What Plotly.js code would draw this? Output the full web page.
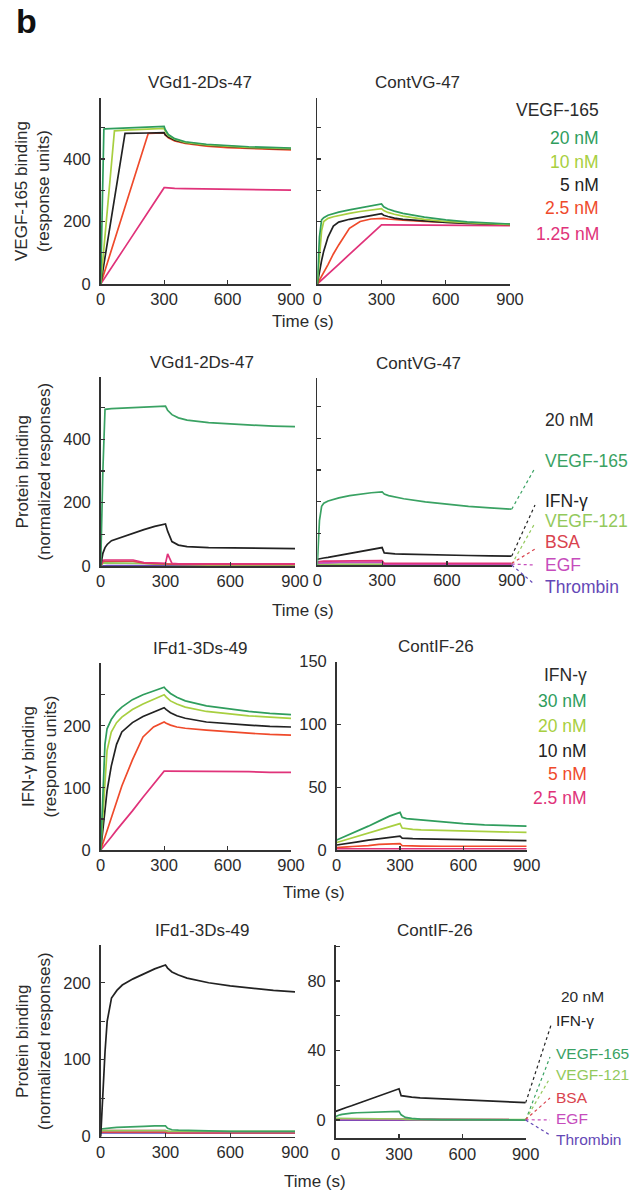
<!DOCTYPE html>
<html><head><meta charset="utf-8">
<script src="https://cdn.plot.ly/plotly-3.0.1.min.js"></script>
<style>html,body{margin:0;padding:0;background:#fff}#chart{width:632px;height:1193px}</style>
</head><body><div id="chart"></div>
<script>
// ---------- DATA ----------
const timeA = [0, 15, 20, 65, 115, 225, 300, 305, 320, 350, 400, 500, 600, 700, 800, 900];
const timeB = [0, 10, 20, 30, 50, 75, 100, 150, 200, 250, 300, 310, 330, 360, 400, 500, 600, 700, 800, 900];
const xTicks = [0, 300, 600, 900];

// Row 1 left: VGd1-2Ds-47, VEGF-165 binding (RU)
const vgd_20nM  = [0, 495, 496, 497, 498, 500, 504, 494, 478, 465, 455, 447, 442, 439, 437, 435];
const vgd_10nM  = [0, 113, 151, 490, 492, 495, 498, 490, 475, 463, 453, 445, 440, 437, 435, 433];
const vgd_5nM   = [0, 63, 84, 272, 482, 483, 484, 478, 470, 460, 452, 444, 439, 436, 434, 432];
const vgd_2p5nM = [0, 32, 43, 139, 246, 482, 483, 477, 468, 458, 450, 441, 436, 433, 431, 429];
const vgd_1p25nM= [0, 15, 21, 67, 118, 231, 308, 308, 307, 306, 305, 304, 303, 302, 301, 300];

// Row 1 right: ContVG-47, VEGF-165 binding (RU)
const cvg_20nM  = [0, 150, 205, 212, 220, 226, 230, 237, 243, 249, 256, 247, 240, 233, 226, 214, 205, 199, 195, 192];
const cvg_10nM  = [0, 100, 170, 200, 210, 215, 219, 226, 232, 237, 241, 235, 229, 223, 217, 207, 200, 196, 193, 191];
const cvg_5nM   = [0, 40, 75, 105, 150, 185, 198, 207, 214, 219, 225, 220, 216, 211, 207, 201, 197, 194, 192, 191];
const cvg_2p5nM = [0, 12, 25, 37, 62, 96, 125, 178, 200, 208, 211, 210, 208, 206, 204, 200, 197, 194, 192, 190];
const cvg_1p25nM= [0, 6, 13, 19, 32, 47, 63, 95, 126, 158, 189, 189, 189, 189, 189, 188, 188, 187, 187, 187];

// Row 2 left: VGd1-2Ds-47, protein binding (normalized)
const vgdS_VEGF165 = [0, 300, 495, 496, 497, 498, 499, 500, 501, 503, 505, 492, 478, 468, 461, 453, 448, 445, 442, 440];
const vgdS_IFN     = [0, 40, 58, 68, 80, 86, 92, 103, 115, 125, 133, 110, 77, 66, 61, 58, 57, 56, 56, 55];
const vgdS_VEGF121 = [0, 9, 10, 10, 10, 10, 10, 10, 8, 6, 5, 5, 4, 4, 4, 3, 3, 3, 3, 3];
const vgdS_BSA     = [0, 14, 15, 15, 15, 15, 15, 15, 9, 7, 6, 6, 6, 5, 5, 5, 5, 5, 5, 5];
const vgdS_EGF     = [0, 18, 19, 19, 19, 19, 19, 19, 11, 9, 8, 38, 8, 7, 7, 7, 7, 7, 7, 7];
const vgdS_Thrombin= [0, 1, 1, 1, 1, 1, 1, 1, 1, 1, 1, 1, 1, 1, 1, 1, 1, 1, 1, 1];

// Row 2 right: ContVG-47, protein binding (normalized)
const cvgS_VEGF165 = [0, 140, 185, 195, 202, 208, 212, 219, 224, 228, 231, 224, 219, 214, 209, 199, 191, 185, 180, 176];
const cvgS_IFN     = [18, 20, 21, 22, 24, 27, 30, 36, 42, 49, 55, 38, 36, 35, 34, 32, 31, 30, 29, 28];
const cvgS_VEGF121 = [3, 3, 3, 3, 3, 3, 3, 3, 3, 3, 3, 2, 2, 2, 2, 2, 2, 2, 2, 2];
const cvgS_BSA     = [10, 11, 11, 12, 12, 12, 13, 13, 13, 14, 14, 5, 5, 5, 5, 5, 5, 5, 5, 5];
const cvgS_EGF     = [6, 7, 7, 7, 7, 8, 8, 8, 8, 8, 8, 3, 3, 3, 3, 3, 3, 3, 3, 3];
const cvgS_Thrombin= [0, 0, 0, 0, 0, 0, 0, 0, 0, 0, 0, 0, 0, 0, 0, 0, 0, 0, 0, 0];

// Row 3 left: IFd1-3Ds-49, IFN-γ binding (RU)
const ifd_30nM  = [0, 100, 170, 195, 210, 222, 230, 242, 250, 256, 262, 258, 252, 246, 240, 232, 227, 223, 220, 218];
const ifd_20nM  = [0, 60, 120, 160, 190, 205, 214, 226, 235, 243, 250, 246, 240, 235, 230, 223, 219, 216, 214, 212];
const ifd_10nM  = [0, 30, 62, 95, 135, 170, 190, 205, 215, 222, 229, 226, 221, 216, 212, 206, 203, 201, 199, 198];
const ifd_5nM   = [0, 10, 21, 31, 52, 78, 103, 145, 182, 198, 206, 204, 201, 198, 196, 193, 190, 188, 186, 185];
const ifd_2p5nM = [0, 4, 8, 13, 21, 32, 42, 63, 85, 106, 127, 127, 127, 127, 127, 126, 126, 126, 125, 125];

// Row 3 right: ContIF-26, IFN-γ binding (RU)
const cif_30nM  = [8, 8.7, 9.4, 10, 11.5, 13.3, 15, 19, 23, 27, 30, 26, 25, 24.5, 24, 22.5, 21, 20, 19.5, 19];
const cif_20nM  = [6, 6.5, 7, 7.5, 8.5, 10, 11, 14, 16.5, 19, 21, 17.5, 17, 16.5, 16, 15.5, 15, 14.5, 14, 14];
const cif_10nM  = [4, 4.2, 4.5, 4.8, 5.3, 6, 6.5, 7.8, 9, 10, 11, 9.5, 9.2, 9, 8.8, 8.5, 8.2, 8, 7.8, 7.5];
const cif_5nM   = [2, 2, 2.2, 2.3, 2.5, 2.8, 3, 3.5, 4.5, 5, 5, 3.5, 3.3, 3.2, 3.1, 3, 3, 3, 3, 3];
const cif_2p5nM = [1, 1, 1, 1, 1.1, 1.2, 1.3, 1.4, 1.5, 1.5, 1.6, 1, 1, 1, 1, 1, 1, 1, 1, 1];

// Row 4 left: IFd1-3Ds-49, protein binding (normalized)
const ifdS_IFN     = [0, 60, 110, 150, 180, 190, 197, 205, 212, 218, 223, 219, 214, 210, 206, 200, 196, 193, 190, 188];
const ifdS_VEGF165 = [10, 10.5, 11, 11, 11.5, 12, 12.5, 13, 13.5, 14, 14, 11, 9, 8.5, 8, 7.5, 7, 7, 7, 7];
const ifdS_VEGF121 = [8, 8, 8, 8, 8, 8, 8, 8, 8, 8, 8, 7, 7, 7, 7, 7, 7, 7, 7, 7];
const ifdS_BSA     = [6, 6, 6, 6, 6, 6, 6, 6, 6, 6, 6, 5, 5, 5, 5, 5, 5, 5, 5, 5];
const ifdS_EGF     = [8, 8, 8, 8, 8, 8, 8, 8, 8, 8, 8, 7, 6, 6, 6, 6, 6, 6, 6, 6];
const ifdS_Thrombin= [5, 5, 5, 5, 5, 5, 5, 5, 5, 5, 5, 5, 5, 5, 5, 5, 5, 5, 5, 5];

// Row 4 right: ContIF-26, protein binding (normalized)
const cifS_IFN     = [5, 5.5, 6, 6.5, 7.2, 8.2, 9.3, 11.5, 13.8, 16, 18, 14, 13.6, 13.2, 12.8, 12.2, 11.7, 11.1, 10.5, 10];
const cifS_VEGF165 = [2, 2.6, 3, 3.3, 3.7, 4, 4.2, 4.5, 4.7, 4.9, 5, 3, 1.5, 1, 0.5, 0.3, 0.2, 0.1, 0.1, 0];
const cifS_VEGF121 = [1, 1, 1, 1, 1, 1, 1, 1, 1, 1, 1, 0.6, 0.4, 0.3, 0.3, 0.3, 0.3, 0.3, 0.3, 0.3];
const cifS_BSA     = [0.5, 0.5, 0.5, 0.5, 0.5, 0.5, 0.5, 0.5, 0.5, 0.5, 0.5, 0.3, 0.3, 0.3, 0.3, 0.3, 0.3, 0.3, 0.3, 0.3];
const cifS_EGF     = [0.4, 0.4, 0.4, 0.4, 0.4, 0.4, 0.4, 0.4, 0.4, 0.4, 0.4, 0.2, 0.2, 0.2, 0.2, 0.2, 0.2, 0.2, 0.2, 0.2];
const cifS_Thrombin= [0, 0, 0, 0, 0, 0, 0, 0, 0, 0, 0, 0, 0, 0, 0, 0, 0, 0, 0, 0];

// Text labels
const panelTitles = ['VGd1-2Ds-47', 'ContVG-47', 'VGd1-2Ds-47', 'ContVG-47', 'IFd1-3Ds-49', 'ContIF-26', 'IFd1-3Ds-49', 'ContIF-26'];
const yTitles = ['VEGF-165 binding<br>(response units)', 'Protein binding<br>(normalized responses)', 'IFN-γ binding<br>(response units)', 'Protein binding<br>(normalized responses)'];
const vegfLegend = ['VEGF-165', '20 nM', '10 nM', '5 nM', '2.5 nM', '1.25 nM'];
const ifnLegend = ['IFN-γ', '30 nM', '20 nM', '10 nM', '5 nM', '2.5 nM'];
const specLegend = ['VEGF-165', 'IFN-γ', 'VEGF-121', 'BSA', 'EGF', 'Thrombin'];
const specConc = '20 nM';

// ---------- STYLE ----------
const W = 632, H = 1193;
const FONT = 'Liberation Sans, Arial, Helvetica, sans-serif';
const TXT = '#2b2b2b';
const cG = '#2f9d5d', cLG = '#a8cf40', cK = '#222222', cR = '#ef4a2b', cP = '#e0337a';
const sV165 = '#3aa263', sIFN = '#222222', sV121 = '#93c95c', sBSA = '#d9434e', sEGF = '#c64cbc', sThr = '#6448b6';
const concColors = [TXT, cG, cLG, cK, cR, cP];

const fx = p => p / W;
const fy = p => 1 - p / H;

const panels = [
  {x:[100.7,291],   y:[98,284],     yr:[0,595],  yt:[0,100,200,300,400,500], ytt:['0','','200','','400',''], lab:true},
  {x:[317.3,510],   y:[98,284],     yr:[0,595],  yt:[0,100,200,300,400,500], ytt:['0','','200','','400',''], lab:false},
  {x:[100.7,295],   y:[377,566],    yr:[0,597],  yt:[0,100,200,300,400,500], ytt:['0','','200','','400',''], lab:true},
  {x:[317.3,511.7], y:[378,565],    yr:[0,590],  yt:[0,100,200,300,400,500], ytt:['0','','200','','400',''], lab:false},
  {x:[100.7,291],   y:[663,850],    yr:[0,301],  yt:[0,50,100,150,200,250], ytt:['0','','100','','200',''], lab:true},
  {x:[336.7,526.7], y:[661.7,850],  yr:[0,150],  yt:[0,50,100,150], ytt:['0','50','100','150'], lab:true},
  {x:[100.7,295],   y:[945,1136.7], yr:[0,249],  yt:[0,50,100,150,200], ytt:['0','','100','','200'], lab:true},
  {x:[335.7,525.7], y:[945,1138.3], yr:[-10.5,100.7], yt:[0,20,40,60,80,100], ytt:['0','','40','','80',''], lab:true}
];

const traces = [];
function addSeries(pi, t, y, color) {
  const s = pi === 0 ? '' : String(pi + 1);
  traces.push({type:'scatter', mode:'lines', x:t, y:y, xaxis:'x'+s, yaxis:'y'+s,
    line:{color:color, width:1.7}, hoverinfo:'skip', showlegend:false});
}
[[vgd_1p25nM,cP],[vgd_2p5nM,cR],[vgd_5nM,cK],[vgd_10nM,cLG],[vgd_20nM,cG]].forEach(d=>addSeries(0,timeA,d[0],d[1]));
[[cvg_1p25nM,cP],[cvg_2p5nM,cR],[cvg_5nM,cK],[cvg_10nM,cLG],[cvg_20nM,cG]].forEach(d=>addSeries(1,timeB,d[0],d[1]));
[[vgdS_Thrombin,sThr],[vgdS_VEGF121,sV121],[vgdS_BSA,sBSA],[vgdS_EGF,cP],[vgdS_IFN,sIFN],[vgdS_VEGF165,sV165]].forEach(d=>addSeries(2,timeB,d[0],d[1]));
[[cvgS_Thrombin,sThr],[cvgS_VEGF121,sV121],[cvgS_EGF,sEGF],[cvgS_BSA,cP],[cvgS_IFN,sIFN],[cvgS_VEGF165,sV165]].forEach(d=>addSeries(3,timeB,d[0],d[1]));
[[ifd_2p5nM,cP],[ifd_5nM,cR],[ifd_10nM,cK],[ifd_20nM,cLG],[ifd_30nM,cG]].forEach(d=>addSeries(4,timeB,d[0],d[1]));
[[cif_2p5nM,cP],[cif_5nM,cR],[cif_10nM,cK],[cif_20nM,cLG],[cif_30nM,cG]].forEach(d=>addSeries(5,timeB,d[0],d[1]));
[[ifdS_Thrombin,sThr],[ifdS_BSA,sBSA],[ifdS_EGF,cP],[ifdS_VEGF121,sV121],[ifdS_VEGF165,sV165],[ifdS_IFN,sIFN]].forEach(d=>addSeries(6,timeB,d[0],d[1]));
[[cifS_Thrombin,sThr],[cifS_BSA,sBSA],[cifS_EGF,sEGF],[cifS_VEGF121,sV121],[cifS_VEGF165,sV165],[cifS_IFN,sIFN]].forEach(d=>addSeries(7,timeB,d[0],d[1]));

const layout = {
  width: W, height: H, margin:{l:0,r:0,t:0,b:0},
  paper_bgcolor:'#fff', plot_bgcolor:'rgba(0,0,0,0)',
  font:{family:FONT, color:TXT, size:16},
  showlegend:false, annotations:[], shapes:[]
};
panels.forEach((p, i) => {
  const s = i === 0 ? '' : String(i + 1);
  layout['xaxis'+s] = {domain:[fx(p.x[0]), fx(p.x[1])], range:[0,900], anchor:'y'+s,
    tickvals:xTicks, ticktext:xTicks.map(String), ticks:'inside', ticklen:4, tickwidth:1.2, tickcolor:'#333',
    showline:true, linecolor:'#333', linewidth:1.6, showgrid:false, zeroline:false,
    tickfont:{size:16.5, color:TXT, family:FONT}, fixedrange:true};
  layout['yaxis'+s] = {domain:[fy(p.y[1]), fy(p.y[0])], range:p.yr, anchor:'x'+s,
    tickvals:p.yt, ticktext:p.ytt, showticklabels:p.lab, ticks:'inside', ticklen:4, tickwidth:1.2, tickcolor:'#333',
    showline:true, linecolor:'#333', linewidth:1.6, showgrid:false, zeroline:false, ticklabelstandoff:5,
    tickfont:{size:16.5, color:TXT, family:FONT}, fixedrange:true};
  layout.annotations.push({xref:'paper', yref:'paper', x:fx((p.x[0]+p.x[1])/2 + 4), y:fy(p.y[0]-15),
    text:panelTitles[i], showarrow:false, xanchor:'center', yanchor:'middle', font:{size:17, color:TXT}});
});

function ann(text, px, py, color, xanchor, size) {
  layout.annotations.push({xref:'paper', yref:'paper', x:fx(px), y:fy(py), text:text, showarrow:false,
    xanchor:xanchor || 'center', yanchor:'middle', font:{size:size || 17.5, color:color || TXT}});
}
const yTitlePos = [[33,191],[33,471.5],[39,756.5],[33,1041]];
yTitles.forEach((t, i) => {
  layout.annotations.push({xref:'paper', yref:'paper', x:fx(yTitlePos[i][0]), y:fy(yTitlePos[i][1]), text:t,
    textangle:-90, showarrow:false, xanchor:'center', yanchor:'middle', font:{size:17, color:TXT}});
});
[[303,321.7],[303,610],[314,893],[315,1181.7]].forEach(p => ann('Time (s)', p[0], p[1], TXT, 'center', 17));
layout.annotations.push({xref:'paper', yref:'paper', x:fx(14), y:fy(21), text:'<b>b</b>', showarrow:false,
  xanchor:'left', yanchor:'middle', font:{size:34, color:'#111'}});

const vegfY = [110, 138.3, 161.7, 185, 208.3, 234];
vegfLegend.forEach((t, i) => ann(t, 601, vegfY[i], concColors[i], 'right'));
const ifnY = [675, 701, 726, 750.7, 774, 798];
ifnLegend.forEach((t, i) => ann(t, 589, ifnY[i], concColors[i], 'right'));

const specColors = [sV165, sIFN, sV121, sBSA, sEGF, sThr];
function leaders(pi, lastVals, ends, labelX, labelY, concPos, size) {
  const p = panels[pi];
  ann(specConc, concPos[0], concPos[1], TXT, 'left', size);
  specLegend.forEach((t, i) => ann(t, labelX, labelY[i], specColors[i], 'left', size));
  lastVals.forEach((v, i) => {
    const py = p.y[1] - (v - p.yr[0]) / (p.yr[1] - p.yr[0]) * (p.y[1] - p.y[0]);
    layout.shapes.push({type:'line', xref:'paper', yref:'paper', x0:fx(p.x[1]), y0:fy(py),
      x1:fx(ends[i][0]), y1:fy(ends[i][1]), line:{color:specColors[i], width:1.2, dash:'dot'}});
  });
}
const lastOf = a => a[a.length - 1];
leaders(3, [cvgS_VEGF165, cvgS_IFN, cvgS_VEGF121, cvgS_BSA, cvgS_EGF, cvgS_Thrombin].map(lastOf),
  [[535,468],[535,505],[535,523],[536.7,548],[535,565],[533,583]],
  543, [461, 501, 521, 542, 565, 587], [543, 420], 17.5);
leaders(7, [cifS_VEGF165, cifS_IFN, cifS_VEGF121, cifS_BSA, cifS_EGF, cifS_Thrombin].map(lastOf),
  [[550,1057],[551.7,1023],[550,1078],[550,1098],[550,1120],[550,1135]],
  554, [1053, 1020, 1074, 1097, 1118.5, 1139], [559, 996], 15.5);

Plotly.newPlot('chart', traces, layout, {staticPlot:true, displayModeBar:false});
</script></body></html>
